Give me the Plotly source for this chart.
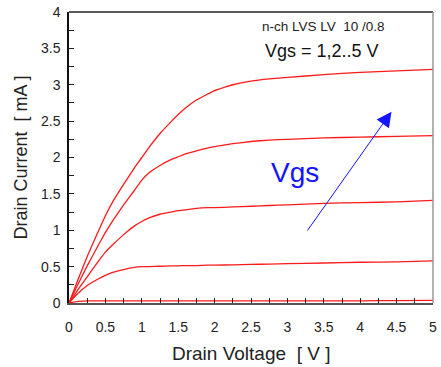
import plotly.graph_objects as go

# Drain voltage sweep [V]
vds = [0, 0.1, 0.25, 0.4, 0.5, 0.6, 0.75, 0.9, 1.0, 1.1, 1.25, 1.4, 1.5, 1.6, 1.75,
       1.9, 2.0, 2.25, 2.5, 2.75, 3.0, 3.5, 4.0, 4.5, 5.0]

# Drain current [mA] for each gate voltage
id_vgs1 = [0, 0.02, 0.03, 0.03, 0.03, 0.03, 0.03, 0.03, 0.03, 0.03, 0.03, 0.03, 0.03, 0.03, 0.03,
           0.03, 0.03, 0.03, 0.03, 0.03, 0.03, 0.03, 0.03, 0.033, 0.035]
id_vgs2 = [0, 0.11, 0.24, 0.33, 0.38, 0.42, 0.46, 0.49, 0.50, 0.50, 0.505, 0.51, 0.51, 0.515, 0.515,
           0.52, 0.52, 0.525, 0.53, 0.535, 0.54, 0.55, 0.56, 0.565, 0.58]
id_vgs3 = [0, 0.15, 0.36, 0.57, 0.70, 0.80, 0.94, 1.06, 1.12, 1.17, 1.22, 1.25, 1.27, 1.28, 1.30,
           1.31, 1.31, 1.32, 1.33, 1.34, 1.35, 1.37, 1.38, 1.39, 1.41]
id_vgs4 = [0, 0.21, 0.51, 0.79, 0.97, 1.13, 1.35, 1.55, 1.69, 1.79, 1.89, 1.97, 2.01, 2.05, 2.09,
           2.13, 2.15, 2.19, 2.22, 2.24, 2.25, 2.27, 2.28, 2.29, 2.30]
id_vgs5 = [0, 0.26, 0.64, 0.98, 1.20, 1.39, 1.63, 1.86, 2.00, 2.14, 2.33, 2.49, 2.59, 2.68, 2.79,
           2.87, 2.92, 3.00, 3.05, 3.08, 3.10, 3.14, 3.17, 3.19, 3.21]

curves = [id_vgs1, id_vgs2, id_vgs3, id_vgs4, id_vgs5]

x_ticks = [0, 0.5, 1, 1.5, 2, 2.5, 3, 3.5, 4, 4.5, 5]
x_tick_text = ["0", "0.5", "1", "1.5", "2", "2.5", "3", "3.5", "4", "4.5", "5"]
y_ticks = [0, 0.5, 1, 1.5, 2, 2.5, 3, 3.5, 4]
y_tick_text = ["0", "0.5", "1", "1.5", "2", "2.5", "3", "3.5", "4"]

FONT = "Liberation Sans, Arial, sans-serif"

fig = go.Figure()
for ids in curves:
    fig.add_trace(go.Scatter(
        x=vds, y=ids, mode="lines",
        line=dict(color="#ff1a1a", width=1.3, shape="spline", smoothing=0.3),
        showlegend=False, hoverinfo="skip",
    ))

fig.update_layout(
    width=441, height=367,
    margin=dict(l=69, r=4, t=10, b=64),
    paper_bgcolor="white", plot_bgcolor="white",
    font=dict(family=FONT, color="#222222", size=14),
    xaxis=dict(
        range=[0, 5], tickvals=x_ticks, ticktext=x_tick_text,
        ticks="inside", ticklen=5, tickwidth=1, tickcolor="#222",
        minor=dict(dtick=0.25, tick0=0, ticks="inside", ticklen=5, tickwidth=1, tickcolor="#222"),
        showgrid=False, zeroline=False,
        showline=True, linecolor="#555555", linewidth=2,
        ticklabelstandoff=10, ticklabeloverflow="allow",
        tickfont=dict(size=14, color="#222"),
    ),
    yaxis=dict(
        range=[0, 4], tickvals=y_ticks, ticktext=y_tick_text,
        ticks="inside", ticklen=5, tickwidth=1, tickcolor="#222",
        minor=dict(dtick=0.25, tick0=0, ticks="inside", ticklen=5, tickwidth=1, tickcolor="#222"),
        showgrid=False, zeroline=False,
        showline=True, linecolor="#111111", linewidth=1.5,
        ticklabelstandoff=4, ticklabeloverflow="allow",
        tickfont=dict(size=14, color="#222"),
    ),
    shapes=[
        dict(type="line", xref="paper", yref="paper", x0=0, x1=1, y0=1, y1=1,
             line=dict(color="#222222", width=1.5)),
        dict(type="line", xref="paper", yref="paper", x0=1, x1=1, y0=0, y1=1,
             line=dict(color="#999999", width=1.5)),
    ],
    annotations=[
        dict(text="Drain Voltage  [ V ]", xref="paper", yref="paper", x=0.5, y=0,
             yshift=-50, showarrow=False, xanchor="center", yanchor="middle",
             font=dict(size=19, color="#222")),
        dict(text="Drain Current  [ mA ]", xref="paper", yref="paper", x=0, y=0.5,
             xshift=-49, showarrow=False, textangle=-90, xanchor="center", yanchor="middle",
             font=dict(size=18, color="#222")),
        dict(text="n-ch LVS LV  10 /0.8", xref="x", yref="y", x=3.49, y=3.80,
             showarrow=False, xanchor="center", yanchor="middle",
             font=dict(size=13.5, color="#222")),
        dict(text="Vgs = 1,2..5 V", xref="x", yref="y", x=3.47, y=3.46,
             showarrow=False, xanchor="center", yanchor="middle",
             font=dict(size=18, color="#111")),
        dict(text="Vgs", xref="x", yref="y", x=3.11, y=1.79,
             showarrow=False, xanchor="center", yanchor="middle",
             font=dict(size=28, color="#1414ff")),
        dict(text="", x=4.43, y=2.63, xref="x", yref="y",
             ax=3.26, ay=0.975, axref="x", ayref="y",
             showarrow=True, arrowhead=2, arrowsize=3, arrowwidth=1,
             arrowcolor="#1414ff"),
    ],
)

fig.write_html("out.html")
